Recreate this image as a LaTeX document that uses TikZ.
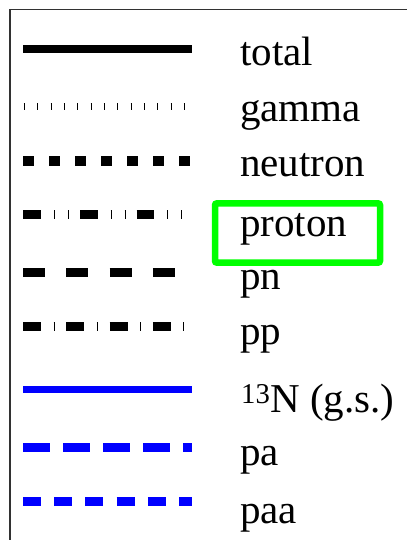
\documentclass[tikz,border=0pt]{standalone}
\usepackage{fontspec}
\setmainfont{Liberation Serif}
\definecolor{frame}{RGB}{50,50,50}
\definecolor{hlgreen}{RGB}{0,255,0}
\begin{document}
\begin{tikzpicture}[x=1pt,y=-1pt,
  lab/.style={anchor=base west,inner sep=0pt,font=\fontsize{41}{41}\selectfont},
  leg/.style={line cap=butt},
  hl/.style={draw=hlgreen,line width=6.5pt,rounded corners=2pt,minimum width=165pt,minimum height=59.4pt,inner sep=0pt}]
\useasboundingbox (0,0) rectangle (407,540);
% frame
\coordinate (fTR) at (406.5,9.5);
\coordinate (fTL) at (10,9.5);
\coordinate (fBL) at (10,541);
\draw[frame,line width=1.4pt] (fTR) -- (fTL) -- (fBL);
% legend lines
\coordinate (a1) at (23,49);   \coordinate (b1) at (192,49);
\coordinate (a2) at (23.9,106.5); \coordinate (b2) at (192,106.5);
\coordinate (a3) at (23.3,161); \coordinate (b3) at (192,161);
\coordinate (a4) at (23.3,214.5); \coordinate (b4) at (192,214.5);
\coordinate (a5) at (23,272.5); \coordinate (b5) at (192,272.5);
\coordinate (a6) at (23,326); \coordinate (b6) at (192,326);
\coordinate (a7) at (23,389.5); \coordinate (b7) at (192,389.5);
\coordinate (a8) at (23,447.3); \coordinate (b8) at (192,447.3);
\coordinate (a9) at (23,501.3); \coordinate (b9) at (192,501.3);
\draw[leg,line width=8.5pt] (a1) -- (b1);
\draw[leg,line width=7pt,dash pattern=on 0.9pt off 12.43pt] (a2) -- (b2);
\draw[leg,line width=9.5pt,dash pattern=on 11pt off 15pt] (a3) -- (b3);
\draw[leg,line width=9pt,dash pattern=on 17.5pt off 13.2pt on 1pt off 13pt on 1pt off 11pt] (a4) -- (b4);
\draw[leg,line width=9pt,dash pattern=on 22pt off 21.3pt] (a5) -- (b5);
\draw[leg,line width=9pt,dash pattern=on 18pt off 12.5pt on 1pt off 11.8pt] (a6) -- (b6);
\draw[leg,blue,line width=7.5pt] (a7) -- (b7);
\draw[leg,blue,line width=8.5pt,dash pattern=on 27pt off 13pt] (a8) -- (b8);
\draw[leg,blue,line width=8.5pt,dash pattern=on 18pt off 13.2pt] (a9) -- (b9);
% labels
\node[lab] (l1) at (240,65.7) {total};
\node[lab] (l2) at (240,121.7) {gamma};
\node[lab] (l3) at (240,176.7) {neutron};
\node[lab] (l4) at (240,236.7) {proton};
\node[lab] (l5) at (240,289.3) {pn};
\node[lab] (l6) at (240,344) {pp};
\node[lab] (l7) at (241,412.7) {\textsuperscript{13}N (g.s.)};
\node[lab] (l8) at (240,465) {pa};
\node[lab] (l9) at (240,523.3) {paa};
% highlight box
\node[hl] (box) at (297.5,233) {};
\end{tikzpicture}
\end{document}
